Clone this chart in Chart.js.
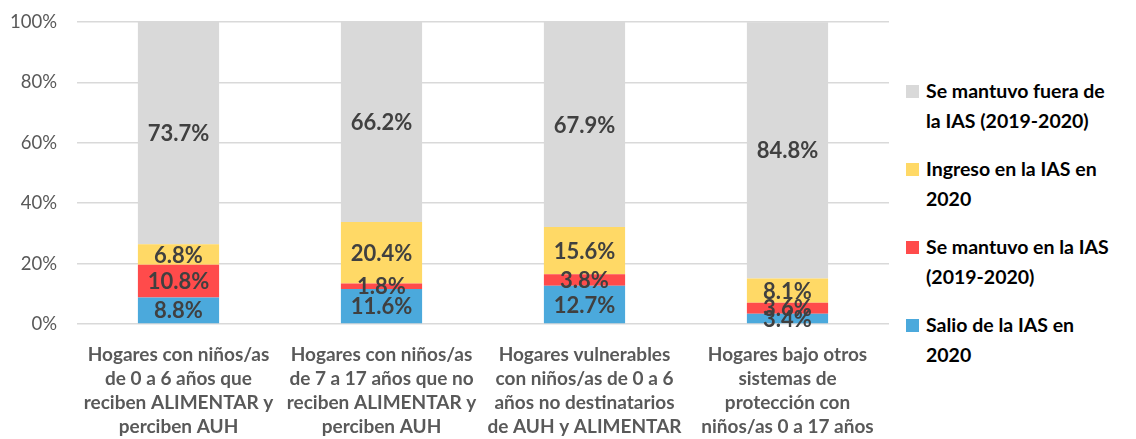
<!DOCTYPE html>
<html>
<head>
<meta charset="utf-8">
<script src="https://cdn.jsdelivr.net/npm/chart.js@4"></script>
<style>
  body { margin: 0; background: #fff; font-family: Lato, "Open Sans", sans-serif; }
  #wrap { position: relative; width: 1136px; height: 439px; }
  #box { position: absolute; left: 0; top: 0; width: 895px; height: 439px; }
  #legend { position: absolute; left: 906px; top: 76px; width: 230px; }
  .item { position: relative; padding-left: 20px; height: 78px; font-weight: bold; font-size: 19.5px; line-height: 30px; color: #000; white-space: nowrap; }
  .item span.sq { position: absolute; left: 0; top: 9px; width: 13px; height: 13px; }
</style>
</head>
<body>
<div id="wrap">
  <div id="box"><canvas id="chart"></canvas></div>
  <div id="legend"></div>
</div>
<script>
const categories = [
  ["Hogares con niños/as", "de 0 a 6 años que", "reciben ALIMENTAR y", "perciben AUH"],
  ["Hogares con niños/as", "de 7 a 17 años que no", "reciben ALIMENTAR y", "perciben AUH"],
  ["Hogares vulnerables", "con niños/as de 0 a 6", "años no destinatarios", "de AUH y ALIMENTAR"],
  ["Hogares bajo otros", "sistemas de", "protección con", "niños/as 0 a 17 años"]
];
const salio = [8.8, 11.6, 12.7, 3.4];
const mantuvoIn = [10.8, 1.8, 3.8, 3.6];
const ingreso = [6.8, 20.4, 15.6, 8.1];
const fuera = [73.7, 66.2, 67.9, 84.8];

const seriesNames = [
  "Salio de la IAS en 2020",
  "Se mantuvo en la IAS (2019-2020)",
  "Ingreso en la IAS en 2020",
  "Se mantuvo fuera de la IAS (2019-2020)"
];
// legend text broken as in the picture
const legendLines = [
  ["Salio de la IAS en", "2020"],
  ["Se mantuvo en la IAS", "(2019-2020)"],
  ["Ingreso en la IAS en", "2020"],
  ["Se mantuvo fuera de", "la IAS (2019-2020)"]
];
const colors = ["#4BA9DC", "#FF4B4B", "#FFD966", "#D9D9D9"];

const segmentLabels = {
  id: "segmentLabels",
  afterDatasetsDraw(chart) {
    const ctx = chart.ctx;
    ctx.save();
    ctx.font = "bold 22px Lato, sans-serif";
    ctx.fillStyle = "#404040";
    ctx.textAlign = "center";
    ctx.textBaseline = "middle";
    chart.data.datasets.forEach((ds, i) => {
      chart.getDatasetMeta(i).data.forEach((bar, j) => {
        const y = (bar.y + bar.base) / 2;
        ctx.fillText(ds.data[j].toFixed(1) + "%", bar.x, y + 1);
      });
    });
    ctx.restore();
  }
};

const chart = new Chart(document.getElementById("chart"), {
  type: "bar",
  data: {
    labels: categories,
    datasets: [salio, mantuvoIn, ingreso, fuera].map((d, i) => ({
      label: seriesNames[i],
      data: d,
      backgroundColor: colors[i],
      barPercentage: 0.4,
      categoryPercentage: 1
    }))
  },
  options: {
    responsive: true,
    maintainAspectRatio: false,
    animation: false,
    layout: { padding: { top: 22, right: 6, left: 0, bottom: 0 } },
    plugins: {
      legend: { display: false },
      tooltip: { enabled: false }
    },
    scales: {
      x: {
        stacked: true,
        afterFit(scale) { scale.height = 115; },
        grid: { display: false },
        border: { display: false },
        ticks: {
          color: "#595959",
          padding: 11,
          maxRotation: 0,
          autoSkip: false,
          font: { family: "Lato", size: 19, weight: "bold", lineHeight: "24px" }
        }
      },
      y: {
        stacked: true,
        min: 0,
        max: 100,
        afterFit(scale) {
          scale.width = 77;
          scale.paddingTop = 0;
        },
        grid: { color: "#D9D9D9", lineWidth: 1.5, drawTicks: false },
        border: { display: false },
        ticks: {
          stepSize: 20,
          padding: 20,
          color: "#595959",
          font: { family: "Lato", size: 18.5 },
          callback: v => v + "%"
        }
      }
    }
  },
  plugins: [segmentLabels]
});

// legend, top to bottom in stack order
const legend = document.getElementById("legend");
for (let i = seriesNames.length - 1; i >= 0; i--) {
  const div = document.createElement("div");
  div.className = "item";
  div.innerHTML = '<span class="sq" style="background:' + colors[i] + '"></span>' + legendLines[i].join("<br>");
  legend.appendChild(div);
}
</script>
</body>
</html>
